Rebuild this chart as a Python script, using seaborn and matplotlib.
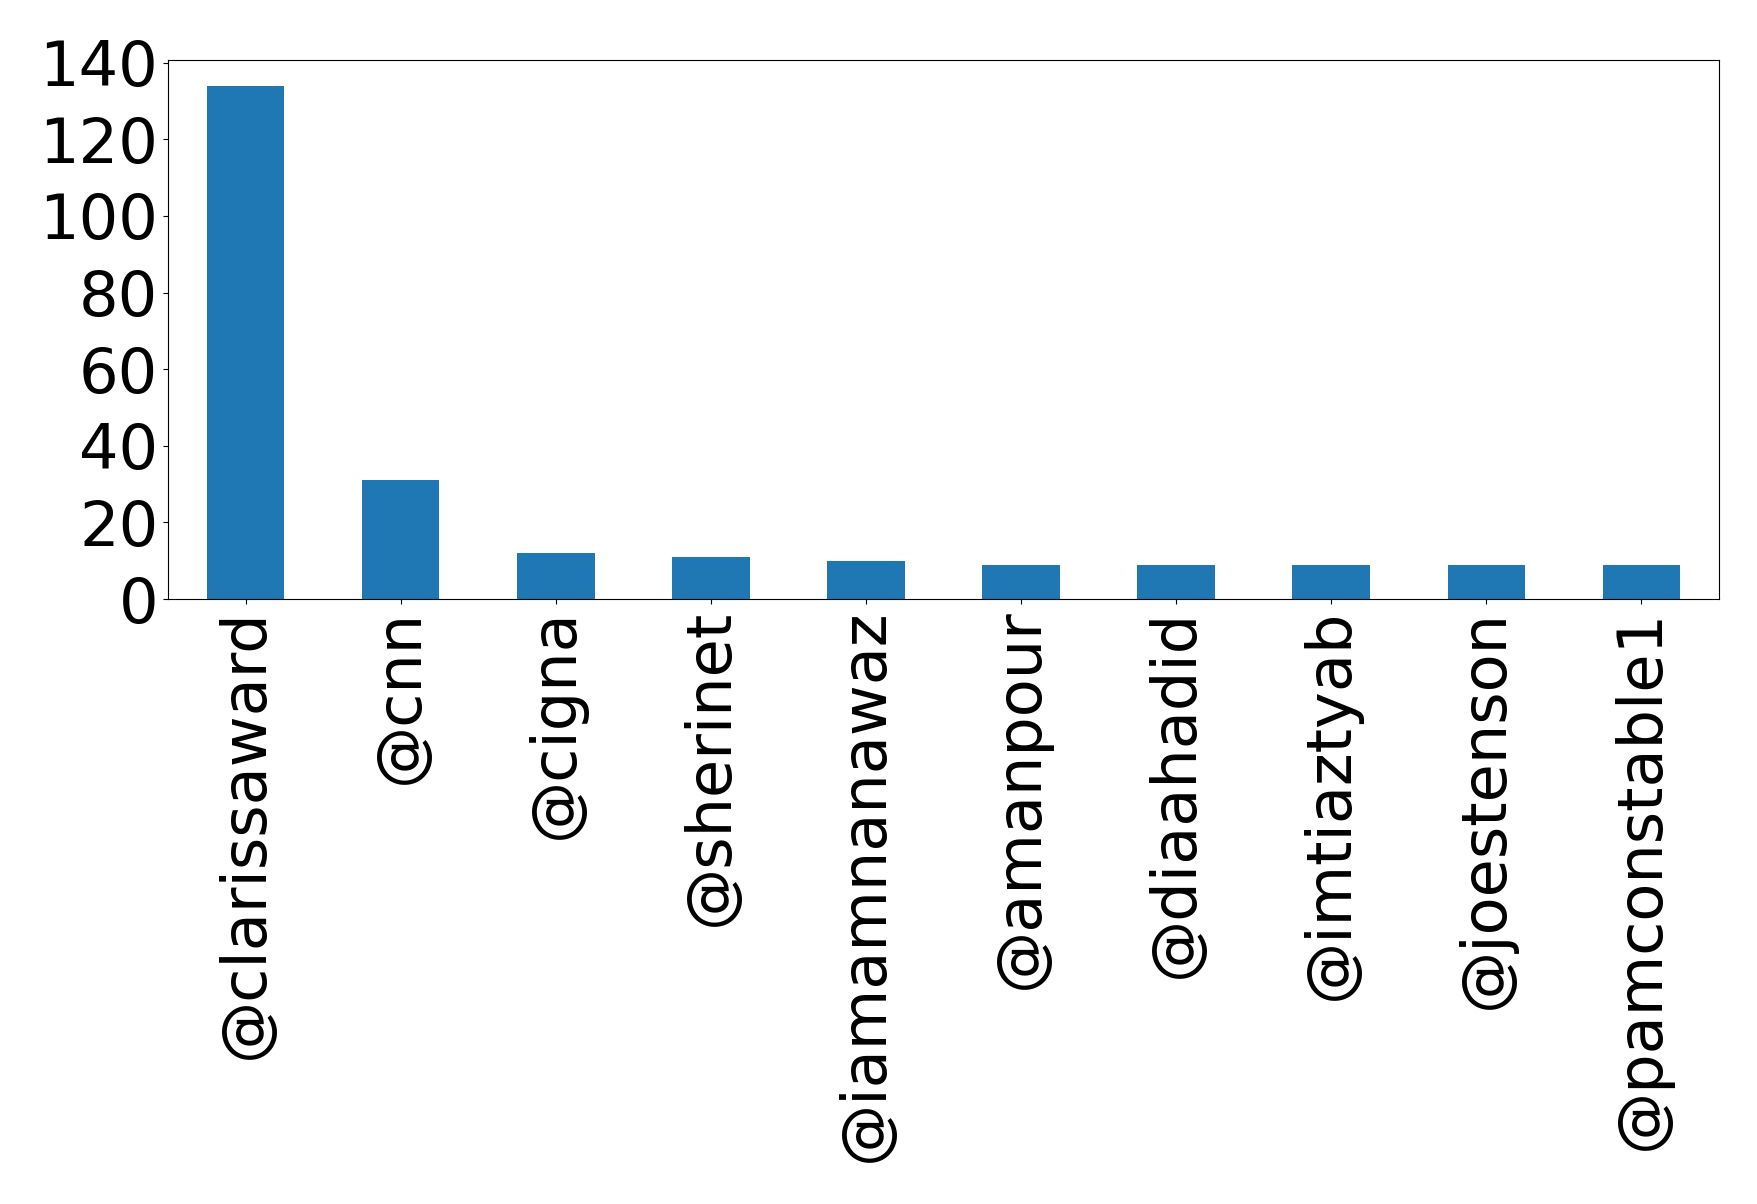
import matplotlib
matplotlib.use("Agg")
import matplotlib.pyplot as plt
import seaborn as sns
import pandas as pd

handles = ["@clarissaward", "@cnn", "@cigna", "@sherinet", "@iamamnanawaz",
           "@amanpour", "@diaahadid", "@imtiaztyab", "@joestenson", "@pamconstable1"]
counts = [134, 31, 12, 11, 10, 9, 9, 9, 9, 9]

df = pd.DataFrame({"handle": handles, "count": counts})

fig = plt.figure(figsize=(17.58, 12.04), dpi=100)
ax = fig.add_axes([168/1758, 1 - 599/1204, (1719-168)/1758, (599-60)/1204])
sns.barplot(data=df, x="handle", y="count", color="#1f77b4", saturation=1,
            width=0.5, ax=ax)
ax.set_xlabel("")
ax.set_ylabel("")
ax.set_ylim(0, 140.7)
ax.set_yticks(range(0, 141, 20))
ax.tick_params(axis="both", labelsize=44.8)
ax.tick_params(axis="x", labelrotation=90)
for s in ax.spines.values():
    s.set_visible(True)
fig.savefig("out.png", dpi=100)
